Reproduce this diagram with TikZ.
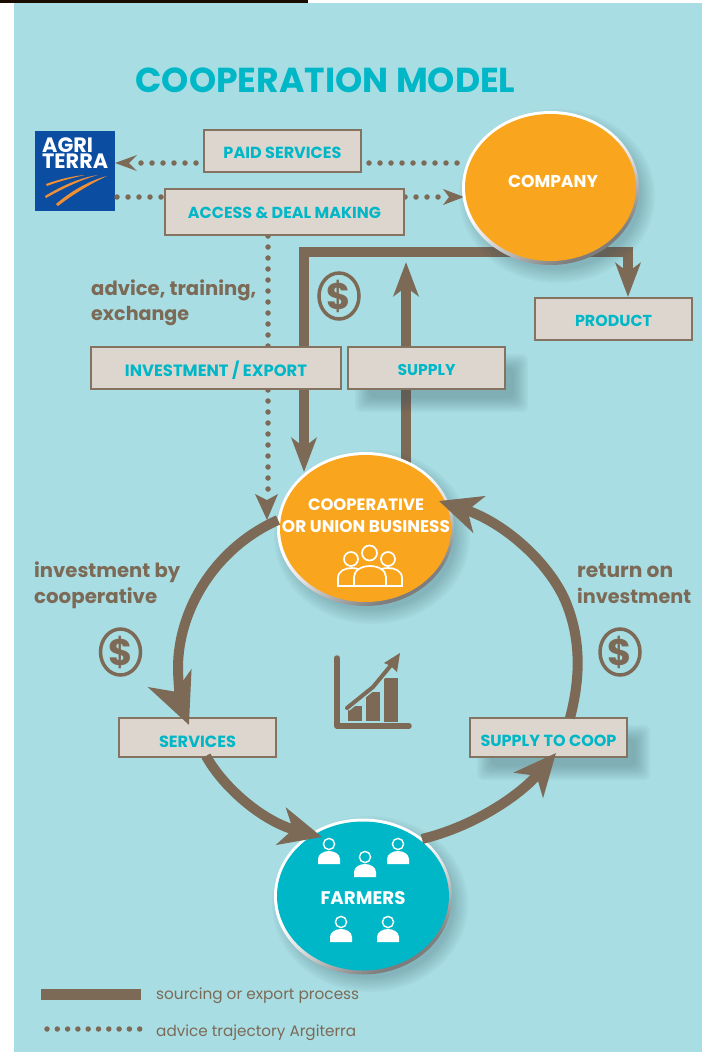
\documentclass[tikz,border=0pt]{standalone}
\usepackage{fontspec}
\usepackage{graphicx}
\setmainfont{Poppins}
\usetikzlibrary{arrows.meta,shapes.geometric,positioning}
\definecolor{bgc}{HTML}{A7DDE3}
\definecolor{tealc}{HTML}{00B7C8}
\definecolor{brownc}{HTML}{7C6A56}
\definecolor{orangec}{HTML}{F9A61E}
\definecolor{boxc}{HTML}{DDD6CF}
\definecolor{blueC}{HTML}{0B4DA1}
\definecolor{swoosh}{HTML}{F18F34}
\definecolor{shadowc}{HTML}{2F4A55}
\pgfdeclareverticalshading{rimshade}{100bp}{
 color(0bp)=(black!65); color(28bp)=(black!50); color(46bp)=(black!12); color(56bp)=(white); color(100bp)=(white)}
\newcommand{\wtxt}[2]{\resizebox{#1pt}{!}{\bfseries #2}}
\newcommand{\mv}[2]{\raisebox{-#1pt}[\height][\depth]{#2}}
\newcommand{\softbox}[4]{\foreach \i in {0,...,7}{\fill[shadowc,opacity=.045,rounded corners=6pt] ({#1-8+2*\i},{#2-8+2*\i}) rectangle ({#3+8-2*\i},{#4+8-2*\i});}}
\newcommand{\softell}[4]{\foreach \i in {0,...,7}{\fill[shadowc,opacity=.035] (#1,#2) ellipse [x radius={#3+10-2*\i},y radius={#4+10-2*\i}];}}
\newcommand{\farmerfig}[2]{\begin{scope}[shift={(#1,#2)}]
\fill[white] (-11,20) -- (-11,15) .. controls (-11,10) and (-5,7) .. (0,7) .. controls (5,7) and (11,10) .. (11,15) -- (11,20) -- cycle;
\draw[white,line width=1.4pt,fill=tealc] (0,0) circle [radius=5.6];
\end{scope}}
\tikzset{x=1pt,y=-1pt,
 flow/.style={draw=brownc!92!boxc,line width=2pt,fill=boxc,minimum width=157pt,minimum height=42pt,inner sep=0pt,text=tealc,anchor=center},
 thick line/.style={draw=brownc,line width=10pt},
 headv/.style={-{Stealth[length=34pt,width=25pt,inset=9pt]}},
 headc/.style={-{Stealth[length=42pt,width=38pt,inset=12pt]}},
 headl/.style={-{Stealth[length=50pt,width=46pt,inset=14pt]}},
 dots/.style={draw=brownc,line width=5.5pt,line cap=round,dash pattern=on 0pt off 11pt},
 dothead/.style={fill=brownc,draw=none},
 lab/.style={text=brownc,anchor=base west,inner sep=0pt},
 dollar/.style={ellipse,draw=brownc,line width=3.5pt,minimum width=40pt,minimum height=44pt,inner sep=0pt,text=brownc,font=\bfseries\fontsize{37}{37}\selectfont},
 rim/.style={shading=rimshade,shading angle=30},
}
\begin{document}
\begin{tikzpicture}
\useasboundingbox (0,0) rectangle (702,1052);
\fill[white] (0,0) rectangle (702,1052);
\fill[bgc] (14,3) rectangle (702,1052);
\fill[black!90!orange] (0,0) rectangle (308,3);
% title
\node[text=tealc,inner sep=0pt] (title) at (325.5,80) {\wtxt{380}{COOPERATION MODEL}};
% logo
\node[fill=blueC,minimum width=80pt,minimum height=80pt,inner sep=0pt] (logo) at (75,171) {};
\node[text=white,anchor=west,inner sep=0pt,align=left,font=\bfseries\fontsize{20.8}{16}\selectfont] (logoT) at (42,153) {AGRI\\TERRA};
\fill[swoosh] (46,184) .. controls (60,179) and (73,176) .. (85,175) .. controls (72,178) and (60,181) .. (47,186) -- cycle;
\fill[swoosh] (45,196) .. controls (60,187) and (78,178) .. (98,175) .. controls (80,180) and (62,189) .. (46,198) -- cycle;
\fill[swoosh] (56,204) .. controls (70,192) and (88,181) .. (107,176) .. controls (90,184) and (72,195) .. (58,206) -- cycle;
% thick top lines
\coordinate (topL) at (304,252);
\coordinate (topR) at (628,252);
\coordinate (tipCoop) at (304,472);
\coordinate (tipProd) at (628,297);
\coordinate (supTop) at (406,262);
\coordinate (supBot) at (406,470);
\draw[thick line,headv] (tipCoop |- 0,440) -- (tipCoop);
\draw[thick line,line join=miter] (304,445) -- (topL) -- (topR) -- (628,275);
\draw[thick line,headv] (628,262) -- (tipProd);
\draw[thick line,headv] (supBot) -- (supTop);
% dotted
\coordinate (dA) at (268,236);
\coordinate (dB) at (268,489.5);
\coordinate (dC) at (141,163);
\coordinate (dD) at (197.5,163);
\coordinate (dE) at (369,163);
\coordinate (dF) at (457.5,163);
\coordinate (dG) at (117,197);
\coordinate (dH) at (164.5,197);
\coordinate (dI) at (405,197);
\coordinate (dJ) at (438.5,197);
\draw[dots] (dA) -- (dB);
\draw[dots] (dC) -- (dD);
\draw[dots] (dE) -- (dF);
\draw[dots] (dG) -- (dH);
\draw[dots] (dI) -- (dJ);
% shadows
\softbox{363}{362}{520}{404}
\softbox{485}{733}{642}{772}
% boxes
\node[flow] (paid) at (282.5,151) {\mv{2}{\wtxt{118}{PAID SERVICES}}};
\node[flow,minimum width=239pt,minimum height=46pt] (access) at (284.5,212) {\mv{0.5}{\wtxt{193}{ACCESS \& DEAL MAKING}}};
\node[flow,minimum width=250pt] (invest) at (216,368) {\mv{2}{\wtxt{182}{INVESTMENT / EXPORT}}};
\node[flow] (supply) at (426.5,368) {\mv{1.5}{\wtxt{58}{SUPPLY}}};
\node[flow] (product) at (613.5,319) {\mv{2}{\wtxt{77}{PRODUCT}}};
\node[flow,minimum height=39pt] (services) at (197.5,737.5) {\mv{4.5}{\wtxt{77}{SERVICES}}};
\node[flow,minimum height=39pt] (s2c) at (548.5,737.5) {\mv{3.5}{\wtxt{136}{SUPPLY TO COOP}}};
% dotted arrow heads
\fill[dothead] (115,163) -- (137,155) -- (129,163) -- (137,171) -- cycle;
\fill[dothead] (464,197) -- (443,189) -- (449,197) -- (443,205) -- cycle;
\fill[dothead] (267,520) -- (255,494) -- (267,500) -- (278,494) -- cycle;
% circles
\softell{557}{196}{88}{77}
\softell{372}{537}{88}{77}
\softell{370}{904}{88}{78}
\path[rim] (550.5,188) ellipse [x radius=88.5,y radius=77];
\fill[orangec] (550.5,187.5) ellipse [x radius=85.5,y radius=73.5];
\path[rim] (365.5,529) ellipse [x radius=88.5,y radius=77];
\fill[orangec] (365.5,528.5) ellipse [x radius=85.5,y radius=73.5];
\path[rim] (363,896.5) ellipse [x radius=89,y radius=78];
\fill[tealc] (363,896) ellipse [x radius=86,y radius=74.5];
\node[text=white,inner sep=0pt] (company) at (553,181) {\wtxt{90}{COMPANY}};
\node[text=white,inner sep=0pt] (coop1) at (366,505) {\wtxt{116}{COOPERATIVE}};
\node[text=white,inner sep=0pt] (coop2) at (366,527) {\wtxt{168}{OR UNION BUSINESS}};
\node[text=white,inner sep=0pt] (farmers) at (363,898) {\wtxt{85}{FARMERS}};
% people icon
\begin{scope}[white,line width=1.7pt]
\draw (354,586) -- (338,586) -- (338,578) .. controls (338,571) and (345,568) .. (352,568) .. controls (354,568) and (356,568.5) .. (358,569);
\draw (386,586) -- (402,586) -- (402,578) .. controls (402,571) and (395,568) .. (388,568) .. controls (385,568) and (383,568.5) .. (381,569);
\draw (354,586) -- (386,586);
\draw (354,586) -- (354,577) .. controls (354,570) and (362,566) .. (370,566) .. controls (378,566) and (386,570) .. (386,577) -- (386,586);
\draw (369.5,553) circle [radius=7.5];
\draw (351,559) circle [radius=7];
\draw (388,559) circle [radius=7];
\end{scope}
% farmers icon
\farmerfig{329}{844}
\farmerfig{365}{857}
\farmerfig{398}{844}
\farmerfig{341}{922}
\farmerfig{388}{922}
% cycle arcs
\coordinate (a1) at (278,520);
\coordinate (a2) at (189,725);
\coordinate (b1) at (206,756);
\coordinate (b2) at (322,837);
\coordinate (c1) at (422,839);
\coordinate (c2) at (556,753);
\coordinate (e1) at (570,718);
\coordinate (e2) at (439,501);
\draw[thick line,headl] (a1) .. controls (215,548) and (178,610) .. (178,668) .. controls (178,685) and (182,708) .. (a2);
\draw[thick line,headc] (b1) .. controls (225,790) and (265,822) .. (b2);
\draw[thick line,headc] (c1) .. controls (475,826) and (520,795) .. (c2);
\draw[thick line,headc] (e1) .. controls (580,680) and (582,640) .. (565,600) .. controls (548,562) and (505,523) .. (e2);
% labels
\node[lab] (l1) at (91,295) {\wtxt{165}{advice, training,}};
\node[lab] (l2) at (91,320) {\wtxt{98}{exchange}};
\node[lab] (l3) at (34,577) {\wtxt{146}{investment by}};
\node[lab] (l4) at (34,603) {\wtxt{123}{cooperative}};
\node[lab] (l5) at (577,577) {\wtxt{96}{return on}};
\node[lab] (l6) at (577,603) {\wtxt{114}{investment}};
\node[dollar] (d1) at (339,296) {\$};
\node[dollar] (d2) at (120.5,652) {\$};
\node[dollar] (d3) at (620,652) {\$};
% chart
\draw[brownc,line width=5.5pt,line cap=round,line join=round] (337,658) -- (337,726) -- (409,726);
\fill[brownc] (348,706) rectangle (362,721);
\fill[brownc] (366,692) rectangle (380,721);
\fill[brownc] (384,678) rectangle (398,722);
\draw[bgc,line width=7pt] (347,708) -- (373,687) -- (392,664);
\draw[brownc,line width=4pt,line cap=round] (347,708) -- (373,687) -- (392,664);
\fill[brownc] (400,653) -- (384,663) -- (391,666) -- (397,672) -- cycle;
% legend
\node[fill=brownc,minimum width=100pt,minimum height=11pt,inner sep=0pt] (lgA) at (91,994.5) {};
\coordinate (lgB1) at (47,1029);
\coordinate (lgB2) at (140,1029);
\draw[dots,dash pattern=on 0pt off 10.3pt] (lgB1) -- (lgB2);
\node[text=brownc,anchor=base west,inner sep=0pt] (lgT1) at (156,999) {\resizebox{203pt}{!}{sourcing or export process}};
\node[text=brownc,anchor=base west,inner sep=0pt] (lgT2) at (156,1036) {\resizebox{200pt}{!}{advice trajectory Argiterra}};
\end{tikzpicture}
\end{document}
